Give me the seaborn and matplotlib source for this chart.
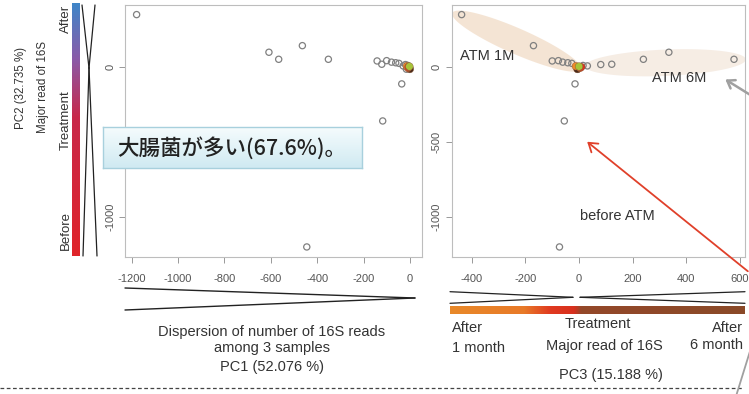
import numpy as np
import pandas as pd
import matplotlib
matplotlib.use("Agg")
import matplotlib.pyplot as plt
import seaborn as sns
from matplotlib.lines import Line2D
from matplotlib.patches import Polygon, FancyArrowPatch
from matplotlib.colors import LinearSegmentedColormap

# ---------------- data ----------------
pc1 = [-1178, -608, -566, -464, -352, -445, -118, -36, -142, -122, -101, -80, -62, -48, -30, -20, -16, -10]
pc2 = [347, 96, 49, 140, 49, -1202, -362, -115, 38, 16, 40, 30, 26, 22, 5, 14, -17, 8]
pc3 = [-438, 335, 240, -170, 578, -73, -55, -15, -100, 122, -77, -61, -42, -27, 31, 81, -5, 15]

core_pc1 = [-1, -9, -14, -7, -3]
core_pc2 = [-16, -8, 3, -2, 1]
core_pc3 = [-6, 4, -12, 8, 0]
core_group = ["6 month", "before", "1 month", "treatment", "centre"]
core_palette = {"1 month": "#ee8a2a", "treatment": "#e0301e", "centre": "#a8c43a",
                "before": "#e85a24", "6 month": "#4a2a1a"}

x1_ticks = [-1200, -1000, -800, -600, -400, -200, 0]
x3_ticks = [-400, -200, 0, 200, 400, 600]
y_ticks = [0, -500, -1000]

# ---------------- setup ----------------
sns.set_theme(style="white")
plt.rcParams["font.family"] = ["Liberation Sans", "DejaVu Sans"]
plt.rcParams["axes.unicode_minus"] = False

W, H = 749, 394
fig = plt.figure(figsize=(W / 100, H / 100), dpi=100)
fig.patch.set_facecolor("white")


def fx(x):
    return x / W


def fy(y):
    return 1 - y / H


def rect(x0, y0, x1, y1):
    return [x0 / W, 1 - y1 / H, (x1 - x0) / W, (y1 - y0) / H]


ax1 = fig.add_axes(rect(125, 5, 421.7, 257))
ax2 = fig.add_axes(rect(451.7, 5, 745, 257))

df = pd.DataFrame({"PC1": pc1, "PC2": pc2, "PC3": pc3})
core = pd.DataFrame({"PC1": core_pc1, "PC2": core_pc2, "PC3": core_pc3, "group": core_group})

# ellipses on the PC3 panel (groups ATM 1M / ATM 6M)
t = np.linspace(0, 2 * np.pi, 200)
ell_specs = [((-233, 170), (240, -188), (-19, -78), "#f3e0cd", 0.85),
             ((322, 26), (300, 22), (0, 88), "#f5ebe2", 0.9)]
for (cx, cy), (ux, uy), (vx, vy), col, al in ell_specs:
    pts = np.column_stack([cx + ux * np.cos(t) + vx * np.sin(t),
                           cy + uy * np.cos(t) + vy * np.sin(t)])
    ax2.add_patch(Polygon(pts, closed=True, facecolor=col, edgecolor="none", alpha=al, zorder=1))

for ax, xcol in ((ax1, "PC1"), (ax2, "PC3")):
    sns.scatterplot(data=df, x=xcol, y="PC2", ax=ax, s=20, marker="o",
                    color="#808080", linewidth=0.9, legend=False, zorder=3)
    pc = ax.collections[-1]
    pc.set_facecolor("none")
    pc.set_edgecolor("#808080")
    sns.scatterplot(data=core, x=xcol, y="PC2", hue="group", palette=core_palette,
                    ax=ax, s=30, linewidth=0.3, edgecolor="#8a5a3a", legend=False, zorder=4)
    ax.set_ylim(-1269, 411)
    ax.set_yticks(y_ticks)
    ax.set_yticklabels([str(v) for v in y_ticks], rotation=90, va="center")
    ax.tick_params(axis="y", pad=3)
    ax.tick_params(axis="x", pad=8)
    ax.tick_params(direction="out", length=4, width=0.7, color="#999999",
                   labelcolor="#555555", labelsize=8, left=True, bottom=True)
    for s in ax.spines.values():
        s.set_color("#bdbdbd")
        s.set_linewidth(0.8)
    ax.set_xlabel("")
    ax.set_ylabel("")

ax1.set_xlim(-1228, 50)
ax1.set_xticks(x1_ticks)
ax1.set_xticklabels([str(v) for v in x1_ticks])
ax2.set_xlim(-475, 619)
ax2.set_xticks(x3_ticks)
ax2.set_xticklabels([str(v) for v in x3_ticks])

ax2.text(-444, 71, "ATM 1M", fontsize=10.5, color="#333333", va="center", ha="left", zorder=5)
ax2.text(271, -73, "ATM 6M", fontsize=10.5, color="#333333", va="center", ha="left", zorder=5)
ax2.text(4, -995, "before ATM", fontsize=10.5, color="#333333", va="center", ha="left", zorder=5)

# ---------------- vertical gradient bar (left) ----------------
cmap_v = LinearSegmentedColormap.from_list(
    "v", [(0, "#3f86c8"), (0.22, "#8a5aa8"), (0.45, "#c8284a"), (1, "#e0242a")])
axv = fig.add_axes(rect(72, 3, 80, 256))
axv.imshow(np.linspace(0, 1, 256).reshape(-1, 1), cmap=cmap_v, aspect="auto")
axv.axis("off")

for seg in [((82, 5), (89, 68)), ((95, 5), (89, 68)), ((89, 68), (83, 256)), ((89, 68), (97, 256))]:
    (xa, ya), (xb, yb) = seg
    fig.add_artist(Line2D([fx(xa), fx(xb)], [fy(ya), fy(yb)], color="#222222", lw=0.9,
                          transform=fig.transFigure))

fig.text(fx(21), fy(88), "PC2 (32.735 %)", rotation=90, ha="center", va="center",
         fontsize=8.3, color="#333333")
fig.text(fx(43), fy(87), "Major read of 16S", rotation=90, ha="center", va="center",
         fontsize=8.3, color="#333333")
fig.text(fx(66), fy(19), "After", rotation=90, ha="center", va="center", fontsize=9.5, color="#333333")
fig.text(fx(66), fy(120), "Treatment", rotation=90, ha="center", va="center", fontsize=9.5, color="#333333")
fig.text(fx(66), fy(230), "Before", rotation=90, ha="center", va="center", fontsize=9.5, color="#333333")

# ---------------- bottom left ----------------
for seg in [((125, 288), (415, 298)), ((125, 310), (415, 298))]:
    (xa, ya), (xb, yb) = seg
    fig.add_artist(Line2D([fx(xa), fx(xb)], [fy(ya), fy(yb)], color="#222222", lw=1.0,
                          transform=fig.transFigure))
fig.text(fx(271.7), fy(331.7), "Dispersion of number of 16S reads", ha="center", va="center",
         fontsize=10.5, color="#333333")
fig.text(fx(271.7), fy(348.3), "among 3 samples", ha="center", va="center", fontsize=10.5, color="#333333")
fig.text(fx(271.7), fy(366.7), "PC1 (52.076 %)", ha="center", va="center", fontsize=10.5, color="#333333")

# ---------------- bottom right ----------------
for seg in [((450, 291.7), (573, 297.3)), ((450, 303.3), (573, 297.3)),
            ((580, 297.3), (745, 291.7)), ((580, 297.3), (745, 303.3))]:
    (xa, ya), (xb, yb) = seg
    fig.add_artist(Line2D([fx(xa), fx(xb)], [fy(ya), fy(yb)], color="#222222", lw=0.9,
                          transform=fig.transFigure))

cmap_h = LinearSegmentedColormap.from_list(
    "h", [(0, "#e8892a"), (0.25, "#e87a28"), (0.34, "#e03a20"), (0.42, "#d8301e"),
          (0.445, "#94482a"), (1, "#8a4a28")])
axh = fig.add_axes(rect(450, 306, 745, 313.5))
axh.imshow(np.linspace(0, 1, 256).reshape(1, -1), cmap=cmap_h, aspect="auto")
axh.axis("off")

fig.text(fx(451.7), fy(328.3), "After", ha="left", va="center", fontsize=10.5, color="#333333")
fig.text(fx(451.7), fy(348.3), "1 month", ha="left", va="center", fontsize=10.5, color="#333333")
fig.text(fx(598.3), fy(324), "Treatment", ha="center", va="center", fontsize=10.5, color="#333333")
fig.text(fx(604.2), fy(346), "Major read of 16S", ha="center", va="center", fontsize=10.5, color="#333333")
fig.text(fx(743.3), fy(328.3), "After", ha="right", va="center", fontsize=10.5, color="#333333")
fig.text(fx(743.3), fy(345), "6 month", ha="right", va="center", fontsize=10.5, color="#333333")
fig.text(fx(610.8), fy(375), "PC3 (15.188 %)", ha="center", va="center", fontsize=10.5, color="#333333")

# dashed separator
fig.add_artist(Line2D([0, fx(742)], [fy(387.5), fy(387.5)], color="#444444", lw=0.9,
                      linestyle=(0, (3, 2)), transform=fig.transFigure))

# ---------------- arrows ----------------
fig.add_artist(FancyArrowPatch((fx(750), fy(273)), (fx(585), fy(140)), transform=fig.transFigure,
                               arrowstyle="->,head_length=6,head_width=4", color="#e0402a", lw=1.3))
fig.add_artist(FancyArrowPatch((fx(752), fy(96)), (fx(723), fy(78)), transform=fig.transFigure,
                               arrowstyle="->,head_length=5,head_width=3.5", color="#a0a0a0", lw=1.8))
fig.add_artist(Line2D([fx(751), fx(736.7)], [fy(348), fy(394)], color="#a0a0a0", lw=1.3,
                      transform=fig.transFigure))

# ---------------- callout box ----------------
axb = fig.add_axes(rect(103, 127, 362, 168))
grad = np.linspace(0, 1, 64).reshape(-1, 1)
cmap_b = LinearSegmentedColormap.from_list("b", ["#f6fcfd", "#d0eaf2"])
axb.imshow(grad, cmap=cmap_b, aspect="auto")
axb.set_xticks([])
axb.set_yticks([])
for s in axb.spines.values():
    s.set_color("#a8d0dd")
    s.set_linewidth(1.0)
fig.text(fx(117), fy(148), "大腸菌が多い(67.6%)。", ha="left", va="center", fontsize=15.5,
         color="#222222", family=["Noto Sans CJK JP", "DejaVu Sans"], fontweight="medium", zorder=10)

fig.savefig("out.png", dpi=100)
